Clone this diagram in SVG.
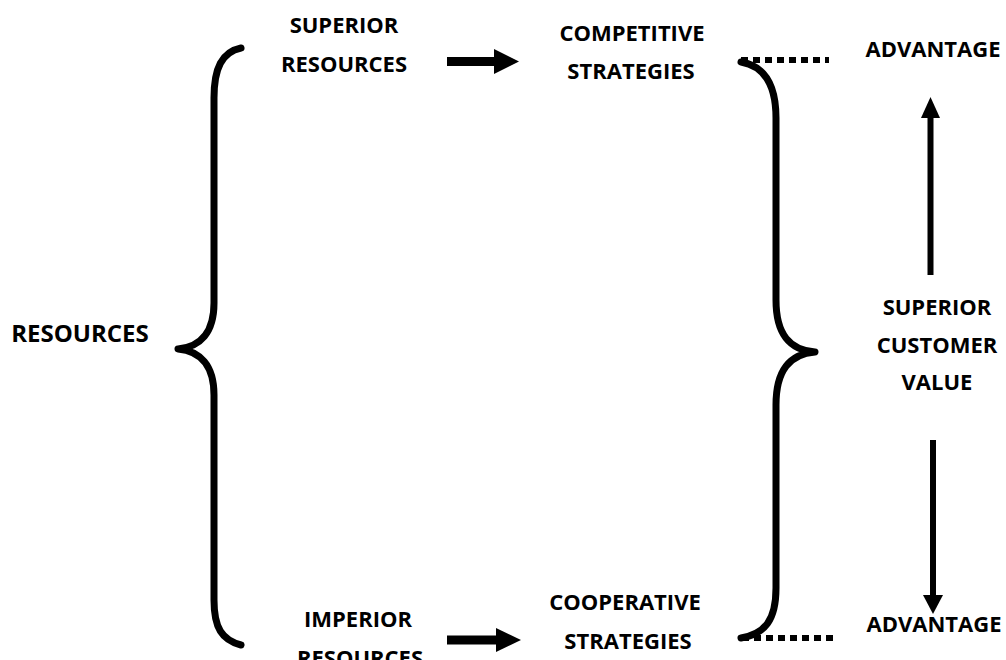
<svg xmlns="http://www.w3.org/2000/svg" width="1006" height="660" viewBox="0 0 1006 660">
<style>
text{font-family:"Open Sans","Liberation Sans",sans-serif;font-weight:bold;font-size:22px;fill:#000;text-anchor:middle}
.brace{fill:none;stroke:#000;stroke-width:7;stroke-linecap:round;stroke-linejoin:round}
.dot{fill:none;stroke:#000;stroke-width:6;stroke-dasharray:7 5}
.fill{fill:#000;stroke:none}
</style>
<rect width="1006" height="660" fill="#fff"/>
<g id="resources"><text x="80" y="342" style="font-size:24px">RESOURCES</text></g>
<g id="superior-resources"><text x="344" y="33">SUPERIOR</text><text x="344" y="72">RESOURCES</text></g>
<g id="imperior-resources"><text x="358" y="627">IMPERIOR</text><text x="360" y="666">RESOURCES</text></g>
<g id="competitive-strategies"><text x="632" y="41">COMPETITIVE</text><text x="631" y="79">STRATEGIES</text></g>
<g id="cooperative-strategies"><text x="625" y="610">COOPERATIVE</text><text x="628" y="649">STRATEGIES</text></g>
<g id="advantage-top"><text x="933" y="57">ADVANTAGE</text></g>
<g id="advantage-bottom"><text x="934" y="632">ADVANTAGE</text></g>
<g id="superior-customer-value"><text x="937" y="315">SUPERIOR</text><text x="937" y="353">CUSTOMER</text><text x="937" y="390">VALUE</text></g>
<g id="connectors">
<path class="brace" d="M241,48 C222,52 214,68 214,98 L214,303 C214,333 200,347 178,349 C200,351 214,365 214,395 L214,600 C214,628 222,640 241,645"/>
<path class="brace" d="M741,62 C765,66 776,85 776,118 L776,300 C776,335 790,350 815,352 C790,354 776,370 776,405 L776,588 C776,620 765,634 741,638"/>
<line class="dot" x1="741" y1="60" x2="829" y2="60"/>
<line class="dot" x1="742" y1="638" x2="834" y2="638"/>
<rect class="fill" x="447" y="57" width="48" height="9"/>
<polygon class="fill" points="494,49 519,61.5 494,74"/>
<rect class="fill" x="447" y="635.5" width="50" height="9"/>
<polygon class="fill" points="496,628 521,640 496,652"/>
<rect class="fill" x="927.5" y="115" width="6" height="160"/>
<polygon class="fill" points="921,118 930.5,97 940,118"/>
<rect class="fill" x="930" y="440" width="6" height="157"/>
<polygon class="fill" points="923,595 933,614 943,595"/>
</g>
</svg>
